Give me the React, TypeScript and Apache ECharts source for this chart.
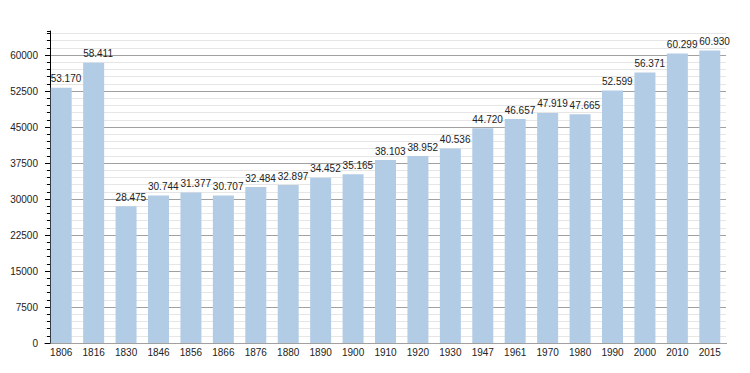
import React, { useEffect, useRef } from "react";
import * as echarts from "echarts";

const years = ["1806", "1816", "1830", "1846", "1856", "1866", "1876", "1880", "1890", "1900", "1910", "1920", "1930", "1947", "1961", "1970", "1980", "1990", "2000", "2010", "2015"];
const population = [53170, 58411, 28475, 30744, 31377, 30707, 32484, 32897, 34452, 35165, 38103, 38952, 40536, 44720, 46657, 47919, 47665, 52599, 56371, 60299, 60930];
const yMax = 65000;
const majorStep = 7500;
const minorStep = 1500;

const FONT = "'Liberation Sans', Arial, sans-serif";

function fmt(v: number): string {
  const s = String(Math.round(v));
  return s.replace(/\B(?=(\d{3})+(?!\d))/g, ".");
}

export default function App() {
  const ref = useRef<HTMLDivElement>(null);
  useEffect(() => {
    document.body.style.margin = "0";
    const chart = echarts.init(ref.current!, null, { renderer: "svg" });
    chart.setOption({
      animation: false,
      backgroundColor: "#ffffff",
      grid: { left: 45, width: 681, top: 31, bottom: 30, containLabel: false },
      xAxis: {
        type: "category",
        data: years,
        axisTick: { show: false },
        axisLine: { lineStyle: { color: "#000", width: 1 } },
        axisLabel: { fontSize: 10, color: "#222", fontFamily: FONT, margin: 4, interval: 0 },
        splitLine: { show: false },
      },
      yAxis: [
        {
          type: "value",
          min: 0,
          max: yMax,
          interval: majorStep,
          offset: -5,
          z: 2,
          axisLine: { show: true, lineStyle: { color: "#000", width: 1 } },
          axisTick: { show: true, length: 5, lineStyle: { color: "#000" } },
          axisLabel: {
            fontSize: 10,
            color: "#222",
            fontFamily: FONT,
            margin: 12,
            showMaxLabel: false,
            formatter: (v: number) => String(v),
          },
          splitLine: { show: true, showMaxLine: false, lineStyle: { color: "#a0a0a0", width: 1 } },
        },
        {
          type: "value",
          position: "left",
          min: 0,
          max: yMax,
          interval: minorStep,
          offset: -5,
          z: 1,
          axisLine: { show: false },
          axisTick: { show: true, length: 3, lineStyle: { color: "#000" } },
          axisLabel: { show: false },
          splitLine: { show: true, showMaxLine: false, lineStyle: { color: "#e6e6e6", width: 1 } },
        },
      ],
      series: [
        {
          type: "bar",
          data: population,
          yAxisIndex: 0,
          barWidth: 21,
          itemStyle: { color: "#b3cce6" },
          z: 3,
          label: {
            show: true,
            position: "top",
            align: "left",
            offset: [-10.5, 0],
            distance: 4,
            fontSize: 10,
            color: "#222",
            fontFamily: FONT,
            formatter: (p: any) => fmt(p.value),
          },
        },
      ],
    });
    return () => chart.dispose();
  }, []);
  return <div ref={ref} style={{ width: 750, height: 373 }} />;
}
